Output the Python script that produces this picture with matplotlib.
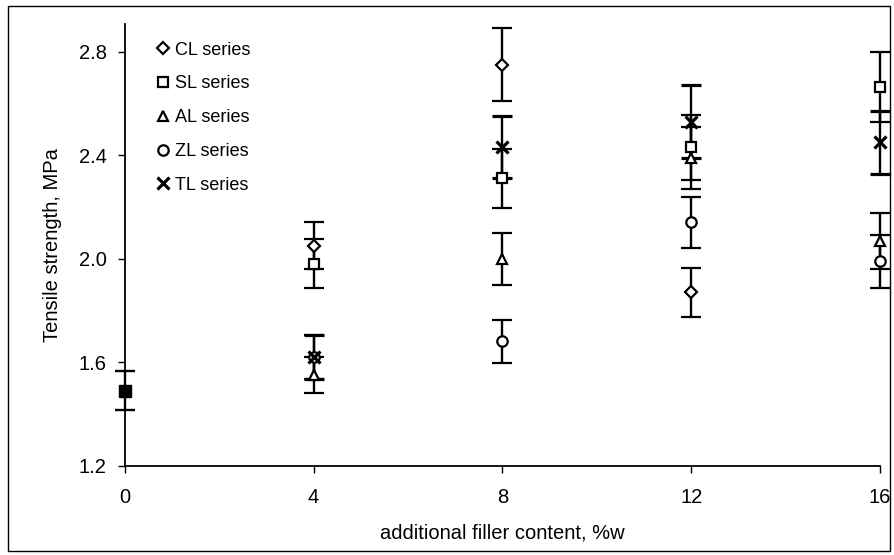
import matplotlib
matplotlib.use("Agg")
import matplotlib.pyplot as plt
from matplotlib.patches import Rectangle

plt.rcParams['font.family'] = ['Liberation Sans', 'DejaVu Sans']

# unfilled polymer (0 %w) - common starting point
base_x = [0]
base_y = [1.49]
base_err = [0.075]

# filler series
cl_x = [4, 8, 12]
cl_y = [2.05, 2.75, 1.87]
cl_err = [0.09, 0.14, 0.095]

x = [4, 8, 12, 16]
sl_y = [1.98, 2.31, 2.43, 2.665]
sl_err = [0.095, 0.115, 0.125, 0.135]
al_y = [1.55, 2.00, 2.39, 2.07]
al_err = [0.07, 0.10, 0.12, 0.108]
zl_y = [1.62, 1.68, 2.14, 1.99]
zl_err = [0.085, 0.083, 0.10, 0.103]
tl_y = [1.62, 2.43, 2.53, 2.45]
tl_err = [0.085, 0.12, 0.14, 0.122]

x_ticks = [0, 4, 8, 12, 16]
y_ticks = [1.2, 1.6, 2.0, 2.4, 2.8]

fig = plt.figure(figsize=(8.94, 5.55), dpi=100)
ax = fig.add_axes([0.1395, 0.1609, 0.8448, 0.7959])

eb = dict(ls='none', color='black', ecolor='black', elinewidth=1.7,
          capsize=7, capthick=1.7, clip_on=False, zorder=3)
mk = dict(ms=7.5, mfc='white', mec='black', mew=1.6)

ax.errorbar(base_x, base_y, yerr=base_err, marker='s', ms=9, mfc='black',
            mec='black', **eb)
ax.errorbar(cl_x, cl_y, yerr=cl_err, marker='D', label='CL series',
            **eb, **dict(mk, ms=6.5))
ax.errorbar(x, sl_y, yerr=sl_err, marker='s', label='SL series', **eb, **mk)
ax.errorbar(x, al_y, yerr=al_err, marker='^', label='AL series', **eb, **mk)
ax.errorbar(x, zl_y, yerr=zl_err, marker='o', label='ZL series', **eb, **mk)
ax.errorbar(x, tl_y, yerr=tl_err, marker='x', label='TL series',
            ms=9, mew=2.3, **eb)

ax.set_xlim(0, 16)
ax.set_ylim(1.2, 2.907)
ax.set_xticks(x_ticks)
ax.set_xticklabels([str(t) for t in x_ticks])
ax.set_yticks(y_ticks)
ax.set_yticklabels([f"{t:.1f}" for t in y_ticks])
ax.tick_params(labelsize=14.5, length=5, width=1, direction='out', pad=8)
ax.tick_params(axis='x', pad=11)

for s in ['top', 'right']:
    ax.spines[s].set_visible(False)
for s in ['left', 'bottom']:
    ax.spines[s].set_linewidth(1.3)

ax.set_xlabel('additional filler content, %w', fontsize=14.5, labelpad=12)
ax.set_ylabel('Tensile strength, MPa', fontsize=14.5, labelpad=12)

handles, labels = ax.get_legend_handles_labels()
handles = [h[0] for h in handles]
leg = ax.legend(handles, labels, loc='upper left', bbox_to_anchor=(0.022, 0.997),
                frameon=False, fontsize=13, handlelength=0.6, handletextpad=0.35,
                labelspacing=0.93, markerscale=1.0)

fig.patches.append(Rectangle((0.009, 0.008), 0.987, 0.982, transform=fig.transFigure,
                             fill=False, edgecolor='black', linewidth=1.0))

fig.savefig('out.png', dpi=100)
